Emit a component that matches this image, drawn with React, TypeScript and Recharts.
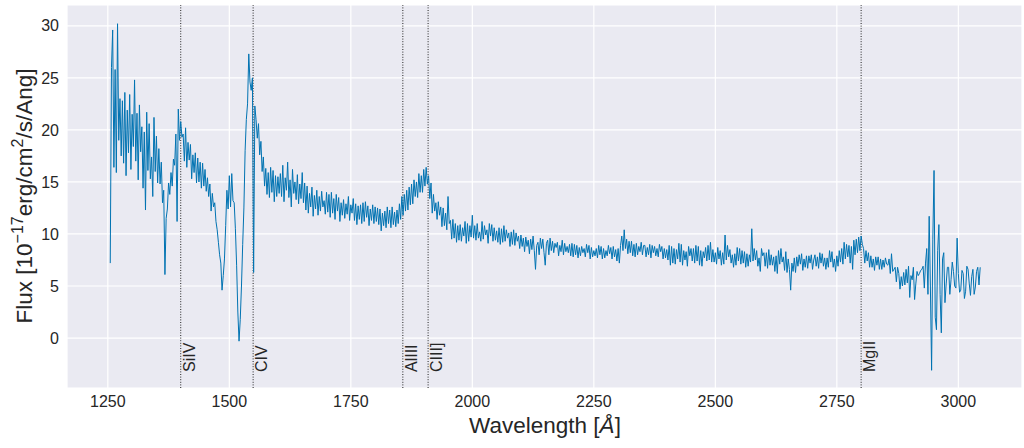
import React from "react";
import {
  CartesianGrid,
  Customized,
  Line,
  LineChart,
  ReferenceLine,
  XAxis,
  YAxis,
} from "recharts";

// wavelength grid of the resampled spectrum (Angstrom)
const waveStart = 1255;
const waveStep = 2.5;

// flux in 1e-17 erg/cm^2/s/Ang, 50 Ang per row
const fluxLyaWing = [
  7.2, 26.0, 29.6, 16.4, 25.8, 15.9, 30.2, 19.0, 23.0, 17.5, 22.8, 16.8, 23.6, 15.6, 21.9, 17.8, 23.4, 16.2, 21.5, 18.4,
  24.8, 17.0, 21.6, 15.2, 22.4, 17.9, 20.3, 14.4, 19.8, 12.3, 21.7, 16.1, 20.6, 15.3, 17.4, 13.6, 21.2, 16.0, 19.4, 14.9,
  18.2, 14.8, 16.9, 13.0, 14.2, 6.1, 11.5, 12.4, 14.9, 13.8, 15.9, 14.6, 17.2, 16.6, 19.6, 11.2, 22.0, 19.0, 20.8, 19.3,
];
const fluxSiIVtoCIV = [
  19.6, 17.0, 20.2, 16.4, 18.8, 17.1, 18.6, 15.3, 17.6, 15.9, 17.8, 14.9, 17.3, 15.0, 16.9, 14.4, 16.8, 14.6, 16.2, 14.1,
  15.4, 13.6, 14.8, 12.2, 13.9, 12.6, 13.0, 11.2, 10.4, 9.2, 8.0, 7.2, 4.6, 6.0, 7.6, 10.8, 14.2, 12.4, 15.6, 12.6,
  15.8, 13.2, 13.0, 10.5, 7.0, 2.5, -0.3, 1.8, 5.0, 9.0, 12.5, 18.0, 21.0, 22.5, 27.3, 24.6, 23.8, 25.0, 6.3, 22.3,
];
const fluxCIVtoCIII = [
  21.0, 19.2, 20.6, 17.6, 18.9, 16.0, 17.4, 14.6, 16.3, 13.8, 15.9, 13.5, 16.4, 14.0, 16.1, 13.1, 15.6, 13.6, 15.5, 13.9,
  15.8, 13.6, 16.6, 13.1, 15.4, 14.2, 16.9, 13.5, 15.2, 12.6, 16.2, 13.9, 15.0, 13.3, 15.7, 12.9, 14.8, 13.4, 15.9, 13.0,
  14.9, 12.3, 14.6, 12.0, 13.9, 12.6, 14.5, 11.7, 13.7, 12.4, 14.2, 11.8, 13.6, 12.2, 14.1, 12.6, 13.2, 11.9, 14.0, 12.1,
  13.8, 11.6, 14.0, 12.0, 13.4, 11.4, 13.8, 12.2, 13.5, 11.2, 13.0, 11.8, 13.3, 11.5, 12.9, 11.9, 13.6, 11.3, 12.8, 12.0,
  13.4, 11.3, 12.9, 10.9, 12.7, 11.4, 12.8, 11.0, 13.0, 11.2, 13.1, 11.6, 12.7, 10.8, 12.4, 11.3, 12.8, 11.0, 12.6, 11.2,
  12.5, 10.9, 12.4, 10.3, 12.0, 10.8, 12.2, 10.6, 12.6, 11.0, 12.3, 10.6, 12.6, 10.9, 12.1, 10.7, 12.3, 11.0, 12.9, 11.4,
  13.6, 11.8, 13.8, 12.2, 14.2, 12.3, 14.5, 12.8, 14.8, 12.9, 15.2, 13.6, 15.0, 13.5, 15.8, 14.0, 15.6, 14.0, 16.2, 14.6,
];
const fluxCIIItoMgII = [
  16.4, 14.8, 15.6, 13.4, 14.9, 12.0, 13.8, 12.2, 13.0, 11.4, 13.1, 11.8, 12.6, 10.7, 12.5, 10.8, 12.0, 10.4, 13.6, 11.0,
  11.3, 9.5, 11.4, 9.6, 11.0, 9.2, 10.8, 9.4, 10.9, 9.3, 10.6, 9.8, 11.2, 9.1, 11.0, 9.3, 10.8, 9.7, 11.8, 9.6,
  10.8, 9.4, 11.0, 9.6, 10.2, 9.3, 11.2, 9.5, 10.8, 9.9, 10.4, 9.1, 11.0, 9.8, 10.9, 9.3, 10.6, 9.4, 10.3, 9.2,
  10.6, 9.0, 10.5, 9.2, 10.8, 9.3, 10.4, 9.6, 10.1, 8.8, 10.2, 9.0, 10.4, 8.9, 10.1, 9.3, 9.8, 8.6, 9.9, 8.8,
  9.6, 8.3, 9.7, 8.8, 9.4, 8.1, 9.5, 8.5, 9.8, 8.4, 6.6, 8.9, 9.2, 8.0, 9.6, 8.6, 9.5, 8.2, 7.0, 9.1,
  9.4, 8.0, 9.6, 8.4, 9.3, 8.2, 9.1, 8.7, 9.2, 7.9, 8.9, 8.3, 9.4, 8.0, 9.1, 8.3, 8.8, 8.2, 9.0, 7.9,
  9.1, 7.8, 9.0, 8.0, 8.9, 7.7, 8.7, 7.9, 8.8, 8.2, 8.6, 7.8, 9.0, 8.2, 8.9, 7.6, 8.7, 7.8, 8.4, 7.9,
  8.6, 7.7, 8.9, 8.0, 8.8, 7.6, 8.6, 7.7, 8.4, 7.9, 8.9, 8.1, 8.7, 7.6, 8.8, 7.8, 8.5, 7.4, 8.6, 7.2,
  8.9, 9.8, 8.4, 10.4, 8.6, 9.5, 8.1, 9.3, 8.2, 9.3, 7.9, 9.0, 7.8, 9.1, 8.0, 8.8, 8.3, 9.2, 8.0, 8.9,
  8.9, 7.8, 8.7, 8.0, 9.0, 7.7, 8.9, 8.2, 8.8, 7.9, 8.6, 7.8, 9.0, 8.3, 8.8, 7.6, 8.6, 7.7, 8.5, 7.5,
  8.9, 7.0, 8.8, 7.2, 8.6, 7.1, 8.5, 7.6, 9.1, 7.3, 9.0, 7.0, 8.4, 7.5, 8.3, 6.9, 8.8, 7.9, 8.6, 7.4,
  8.6, 7.2, 8.9, 7.4, 8.8, 7.0, 8.4, 6.9, 8.3, 7.7, 8.7, 7.4, 8.9, 7.5, 9.2, 7.3, 8.5, 7.3, 8.2, 7.1,
  8.7, 7.6, 8.4, 7.0, 8.2, 7.1, 9.9, 7.5, 8.9, 7.8, 8.5, 7.2, 8.0, 6.8, 8.1, 7.0, 8.7, 7.4, 8.6, 7.1,
  8.4, 7.2, 8.3, 6.8, 8.1, 6.9, 8.0, 7.3, 10.5, 7.4, 8.6, 7.5, 8.4, 6.9, 7.7, 6.4, 8.6, 7.9, 8.2, 6.9,
  8.2, 6.7, 8.5, 7.0, 8.0, 7.0, 7.8, 6.4, 7.9, 6.2, 8.4, 7.1, 8.6, 7.3, 7.8, 6.5, 8.3, 6.3, 7.6, 6.6,
  4.6, 7.2, 6.4, 7.7, 6.3, 7.8, 6.9, 8.0, 7.1, 8.1, 6.5, 7.6, 6.8, 7.9, 6.7, 7.9, 7.2, 8.0, 6.6, 7.5,
  8.0, 6.9, 7.8, 6.7, 8.2, 7.2, 8.1, 6.9, 7.7, 6.6, 7.7, 6.8, 8.4, 7.3, 8.3, 6.8, 7.6, 6.4, 7.9, 6.9,
  8.4, 7.3, 8.6, 7.1, 9.2, 7.6, 9.0, 7.8, 8.9, 7.2, 8.8, 6.6, 9.4, 8.0, 9.5, 8.2, 9.7, 8.4, 9.8, 9.0,
];
const fluxRedEnd = [
  8.6, 7.2, 8.4, 7.4, 8.2, 6.8, 7.9, 6.8, 7.6, 6.5, 7.8, 7.0, 7.8, 6.6, 7.6, 6.6, 7.5, 6.8, 7.7, 7.1,
  7.0, 7.6, 6.2, 8.1, 6.4, 6.6, 6.8, 5.4, 6.8, 6.2, 4.7, 5.9, 5.0, 6.3, 5.1, 6.6, 5.3, 6.9, 3.9, 6.0,
  5.6, 6.8, 3.7, 5.2, 6.4, 6.0, 6.2, 6.5, 6.6, 6.9, 4.8, 7.2, 8.6, 4.2, 11.7, 5.0, -3.1, 9.5, 16.1, 2.0,
  0.8, 8.4, 10.9, 4.2, 0.5, 7.6, 8.2, 3.4, 5.2, 6.8, 6.8, 4.2, 5.6, 7.3, 6.4, 5.0, 4.8, 9.6, 6.2, 4.4,
  4.6, 6.5, 6.2, 3.8, 4.5, 6.9, 6.6, 5.2, 4.1, 5.9, 6.6, 4.2, 4.9, 6.4, 6.8, 5.1, 6.8,
];

const xTicks = [1250, 1500, 1750, 2000, 2250, 2500, 2750, 3000];
const yTicks = [0, 5, 10, 15, 20, 25, 30];

const lineNames = ["SiIV", "CIV", "AlIII", "CIII]", "MgII"];
const lineWaves = [1400, 1549, 1857, 1909, 2800];

const flux = [
  ...fluxLyaWing,
  ...fluxSiIVtoCIV,
  ...fluxCIVtoCIII,
  ...fluxCIIItoMgII,
  ...fluxRedEnd,
];
const spectrum = flux.map((f, i) => ({ wave: waveStart + i * waveStep, flux: f }));

const font = "'Liberation Sans', Arial, sans-serif";
const textColor = "#262626";

const AxisTitles = () => (
  <g fontFamily={font} fill={textColor}>
    <text x={545} y={433} fontSize={22.5} textAnchor="middle">
      Wavelength [<tspan fontStyle="italic">Å</tspan>]
    </text>
    <text
      x={32}
      y={196}
      fontSize={22.5}
      textAnchor="middle"
      transform="rotate(-90, 32, 196)"
    >
      Flux [10
      <tspan dy={-9} fontSize={16}>
        −17
      </tspan>
      <tspan dy={9}>erg/cm</tspan>
      <tspan dy={-9} fontSize={16}>
        2
      </tspan>
      <tspan dy={9}>/s/Ang]</tspan>
    </text>
  </g>
);

const App = () => {
  return (
    <div style={{ position: "absolute", left: 0, top: 0 }}>
      <LineChart
        width={1024}
        height={448}
        data={spectrum}
        margin={{ top: 5, right: 2, left: 0, bottom: 0 }}
      >
        <CartesianGrid fill="#EAEAF2" fillOpacity={1} stroke="#ffffff" strokeWidth={1.2} />
        <XAxis
          dataKey="wave"
          type="number"
          domain={[1166, 3131]}
          ticks={xTicks}
          allowDataOverflow
          axisLine={false}
          tickLine={false}
          height={60}
          tick={{ fill: textColor, fontSize: 16, fontFamily: font }}
        />
        <YAxis
          type="number"
          domain={[-4.8, 32]}
          ticks={yTicks}
          allowDataOverflow
          axisLine={false}
          tickLine={false}
          width={67}
          tick={{ fill: textColor, fontSize: 16, fontFamily: font }}
        />
        {lineWaves.map((w, i) => (
          <ReferenceLine
            key={lineNames[i]}
            x={w}
            stroke="#222"
            strokeWidth={1}
            strokeDasharray="1 1.6"
            label={(props: any) => {
              const vx = props.viewBox ? props.viewBox.x : 0;
              const tx = vx + 14;
              return (
                <text
                  x={tx}
                  y={372}
                  fontSize={16}
                  fontFamily={font}
                  fill={textColor}
                  textAnchor="start"
                  transform={`rotate(-90, ${tx}, 372)`}
                >
                  {lineNames[i]}
                </text>
              );
            }}
          />
        ))}
        <Line
          dataKey="flux"
          type="linear"
          stroke="#0173b2"
          strokeWidth={1}
          dot={false}
          activeDot={false}
          isAnimationActive={false}
        />
        <Customized component={AxisTitles} />
      </LineChart>
    </div>
  );
};

export default App;
